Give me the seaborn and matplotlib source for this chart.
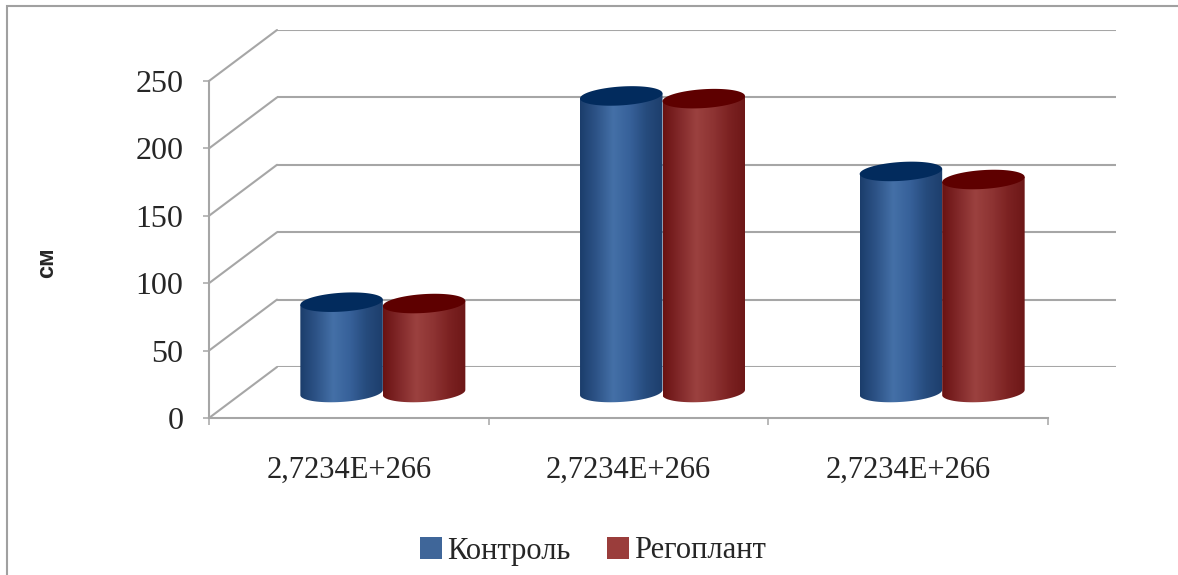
import matplotlib
matplotlib.use("Agg")
import matplotlib.pyplot as plt
import numpy as np
import pandas as pd
import seaborn as sns
from matplotlib.colors import LinearSegmentedColormap
from matplotlib.patches import PathPatch, Rectangle, Patch
from matplotlib.path import Path
from matplotlib.lines import Line2D

sns.set_theme(style="white")
plt.rcParams['font.family'] = ['Liberation Serif', 'DejaVu Serif']

# data
categories = ["2,7234E+266", "2,7234E+266", "2,7234E+266"]
series = ["Контроль", "Регоплант"]
kontrol = [67, 220, 164]
regoplant = [66, 218, 158]
y_ticks = [0, 50, 100, 150, 200, 250]

body_colors = ["#3F6699", "#9A3D3B"]
top_colors = ["#022B5D", "#5E0000"]
grad_stops = [
    ["#1B3D6B", "#2E5488", "#4470A7", "#37619A", "#264B7D", "#1D3E6C"],
    ["#6A1212", "#82292A", "#9B413F", "#8E3433", "#7C2222", "#6C1717"],
]
grid_col = "#A6A6A6"

df = pd.DataFrame({
    "group": list(range(len(categories))) * 2,
    "value": kontrol + regoplant,
    "series": [series[0]] * 3 + [series[1]] * 3,
})

W, H = 1178, 575
fig = plt.figure(figsize=(W / 100, H / 100), dpi=100)

# 3D box: front plane, mid depth (bars), back wall
dx, dy = 34, 25.5
left, bottom, width, height = 243, 392.5, 839, 337
ppu = height / 250.0   # pixels per data unit
def frac(l, b, extra=0):
    return [l / W, (H - b - extra) / H, width / W, (height + extra) / H]

ax_back = fig.add_axes(frac(left + dx, bottom - dy))
ax_front = fig.add_axes(frac(left - dx, bottom + dy))
# bar axes gets some room below zero so the bottom caps are not cut
low = 20
ax = fig.add_axes(frac(left, bottom, extra=low * ppu))

for a in (ax_back, ax, ax_front):
    a.set_xlim(-0.5, len(categories) - 0.5)
    a.set_ylim(0, 250)
    a.patch.set_visible(False)
    for s in a.spines.values():
        s.set_visible(False)

# back wall grid
ax_back.set_xticks([])
ax_back.set_yticks([])
for v in y_ticks:
    ax_back.axhline(v, color=grid_col, lw=1.5, zorder=0)

# side wall diagonals, front -> back
for v in y_ticks:
    p0 = ax_front.transData.transform((-0.5, v))
    p1 = ax_back.transData.transform((-0.5, v))
    f0 = fig.transFigure.inverted().transform(p0)
    f1 = fig.transFigure.inverted().transform(p1)
    fig.add_artist(Line2D([f0[0], f1[0]], [f0[1], f1[1]], color=grid_col, lw=1.5, zorder=0))

# bars
sns.barplot(data=df, x="group", y="value", hue="series", palette=body_colors,
            width=0.59, saturation=1, legend=False, ax=ax)
ax.set_xticks([])
ax.set_yticks([])
ax.set_xlabel("")
ax.set_ylabel("")

ry = 7.0      # half height of the caps, data units
tilt = 1.9    # caps rise a bit to the right
t = np.linspace(0, 2 * np.pi, 80)
for si, cont in enumerate(ax.containers):
    cmap = LinearSegmentedColormap.from_list("g%d" % si, grad_stops[si])
    for bar in cont:
        x0 = bar.get_x()
        w = bar.get_width()
        h = bar.get_height()
        xc = x0 + w / 2
        z = 3 + xc * 2 + si
        bar.set_visible(False)
        ex = xc + (w / 2) * np.cos(t)
        ey = ry * np.sin(t) + tilt * np.cos(t)
        lower = t >= np.pi
        bx, by = ex[lower], ey[lower]
        verts = list(zip(bx, by)) + [(x0 + w, h + tilt), (x0, h - tilt), (bx[0], by[0])]
        clip = PathPatch(Path(verts), transform=ax.transData, facecolor="none", edgecolor="none")
        grad = np.linspace(0, 1, 256).reshape(1, -1)
        im = ax.imshow(grad, extent=(x0, x0 + w, -ry - tilt, h + tilt), aspect="auto",
                       cmap=cmap, zorder=z, interpolation="bilinear")
        im.set_clip_path(clip)
        cap = PathPatch(Path(list(zip(ex, ey + h))), facecolor=top_colors[si],
                        edgecolor="none", zorder=z + 0.1)
        ax.add_patch(cap)

ax.set_xlim(-0.5, len(categories) - 0.5)
ax.set_ylim(-low, 250)

# front axes with ticks and labels
ax_front.spines["left"].set_visible(True)
ax_front.spines["bottom"].set_visible(True)
for s in ("left", "bottom"):
    ax_front.spines[s].set_color(grid_col)
    ax_front.spines[s].set_linewidth(1.5)
ax_front.set_yticks(y_ticks)
ax_front.set_yticklabels([str(v) for v in y_ticks], fontsize=23)
ax_front.set_xticks(np.arange(len(categories) + 1) - 0.5)
ax_front.set_xticklabels([])
ax_front.set_xticks(np.arange(len(categories)), minor=True)
ax_front.set_xticklabels(categories, minor=True, fontsize=22)
ax_front.tick_params(axis="y", direction="out", length=4.5, width=1.1, color=grid_col, pad=14, left=True)
ax_front.tick_params(axis="x", which="major", direction="out", length=5, width=1.1, color=grid_col, bottom=True)
ax_front.tick_params(axis="x", which="minor", length=0, pad=27)

fig.text(47 / W, 1 - 263 / H, "см", rotation=90, ha="center", va="center",
         fontsize=17, fontweight="bold", family=["Liberation Sans", "DejaVu Sans"])

handles = [Patch(facecolor=c, edgecolor="none") for c in body_colors]
fig.legend(handles, series, loc="center", bbox_to_anchor=(593 / W, 1 - 551 / H), ncol=2,
           frameon=False, fontsize=22, handlelength=0.72, handleheight=0.72,
           handletextpad=0.15, columnspacing=1.2, borderpad=0)

# chart area border
fig.add_artist(Rectangle((7 / W, -0.01), 1.0, (H - 6) / H + 0.01, transform=fig.transFigure,
                         fill=False, edgecolor="#A0A0A0", lw=1.5))

fig.savefig("out.png", dpi=100)
